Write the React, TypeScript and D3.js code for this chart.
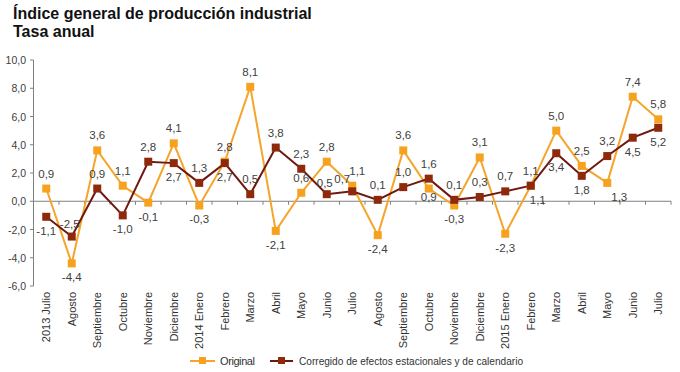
import React from "react";
import * as d3 from "d3";

const categories = [
  "2013 Julio", "Agosto", "Septiembre", "Octubre", "Noviembre", "Diciembre",
  "2014 Enero", "Febrero", "Marzo", "Abril", "Mayo", "Junio", "Julio",
  "Agosto", "Septiembre", "Octubre", "Noviembre", "Diciembre",
  "2015 Enero", "Febrero", "Marzo", "Abril", "Mayo", "Junio", "Julio",
];
const original = [0.9, -4.4, 3.6, 1.1, -0.1, 4.1, -0.3, 2.8, 8.1, -2.1, 0.6, 2.8, 1.1, -2.4, 3.6, 0.9, -0.3, 3.1, -2.3, 1.1, 5.0, 2.5, 1.3, 7.4, 5.8];
const corregido = [-1.1, -2.5, 0.9, -1.0, 2.8, 2.7, 1.3, 2.7, 0.5, 3.8, 2.3, 0.5, 0.7, 0.1, 1.0, 1.6, 0.1, 0.3, 0.7, 1.1, 3.4, 1.8, 3.2, 4.5, 5.2];
const yTicks = [-6, -4, -2, 0, 2, 4, 6, 8, 10];

// label placement: a = above, b = below
const origPlace = "abaababaabaaababbabaaabaa".split("");
const corrPlace = "baabababaaaaaaaaaaabbbabb".split("");
const origDx: Record<number, number> = { 12: 5, 22: 12 };
const corrDx: Record<number, number> = { 12: -10, 19: 7, 1: -2, 11: -2 };
const origDy: Record<number, number> = { 15: -6 };
const corrDy: Record<number, number> = { 11: 4, 12: 3, 1: 2 };

const W = 680, H = 372;
const ORANGE = "#F7A21E";
const ORANGE_LINE = "#F5A42C";
const DARK = "#8E2A0B";
const DARK_LINE = "#6E1810";
const fmt = (v: number) => v.toFixed(1).replace(".", ",");

export default function App() {
  const x = d3.scaleBand<number>().domain(categories.map((_, i) => i)).range([33.5, 671]).padding(0);
  const bw = x.bandwidth();
  const cx = (i: number) => (x(i) as number) + bw / 2;
  const y = d3.scaleLinear().domain([-6, 10]).range([286, 60]);
  const line = d3.line<number>().x((_, i) => cx(i)).y((d) => y(d));
  const font = "'Liberation Sans', Arial, sans-serif";

  const labels = (vals: number[], place: string[], dxs: Record<number, number>, dys: Record<number, number>) =>
    vals.map((v, i) => (
      <text key={i} x={cx(i) + (dxs[i] || 0)} y={(place[i] === "a" ? y(v) - 11 : y(v) + 18) + (dys[i] || 0)}
        textAnchor="middle" fontSize={11.5} fill="#404040" fontFamily={font}>{fmt(v)}</text>
    ));

  return (
    <svg width={W} height={H} style={{ position: "absolute", left: 0, top: 0, background: "#fff" }}>
      <rect x={0} y={0} width={W} height={H} fill="#fff" />
      <text x={13} y={19} fontSize={16} fontWeight="bold" fontFamily={font} fill="#111">Índice general de producción industrial</text>
      <text x={13} y={37} fontSize={16} fontWeight="bold" fontFamily={font} fill="#111">Tasa anual</text>

      {/* y axis */}
      <line x1={33.5} x2={33.5} y1={y(10)} y2={y(-6)} stroke="#808080" />
      {yTicks.map((t) => (
        <g key={t}>
          <line x1={30} x2={33.5} y1={y(t)} y2={y(t)} stroke="#808080" />
          <text x={26} y={y(t) + 4} textAnchor="end" fontSize={10.5} fill="#404040" fontFamily={font}>{fmt(t)}</text>
        </g>
      ))}
      {/* zero line */}
      <line x1={33.5} x2={671} y1={y(0)} y2={y(0)} stroke="#808080" />
      {categories.map((_, i) => (
        <line key={i} x1={(x(i) as number) + bw} x2={(x(i) as number) + bw} y1={y(0)} y2={y(0) + 3.5} stroke="#808080" />
      ))}

      {/* x labels */}
      {categories.map((c, i) => (
        <text key={i} transform={`translate(${cx(i) + 4},292) rotate(-90)`} textAnchor="end"
          fontSize={11} fill="#333" fontFamily={font}>{c}</text>
      ))}

      {/* series */}
      <path d={line(original) as string} fill="none" stroke={ORANGE_LINE} strokeWidth={2} />
      <path d={line(corregido) as string} fill="none" stroke={DARK_LINE} strokeWidth={2} />
      {original.map((v, i) => (
        <rect key={i} x={cx(i) - 4} y={y(v) - 4} width={8} height={8} fill={ORANGE} />
      ))}
      {corregido.map((v, i) => (
        <rect key={i} x={cx(i) - 4} y={y(v) - 4} width={8} height={8} fill={DARK} />
      ))}
      {labels(original, origPlace, origDx, origDy)}
      {labels(corregido, corrPlace, corrDx, corrDy)}

      {/* legend */}
      <line x1={190} x2={215} y1={361} y2={361} stroke={ORANGE_LINE} strokeWidth={2} />
      <rect x={199} y={357} width={7} height={7} fill={ORANGE} />
      <text x={220} y={365} fontSize={11} fill="#333" fontFamily={font} textLength={35}>Original</text>
      <line x1={270} x2={293} y1={361} y2={361} stroke={DARK_LINE} strokeWidth={2} />
      <rect x={278} y={357} width={7} height={7} fill={DARK} />
      <text x={299} y={365} fontSize={11} fill="#333" fontFamily={font} textLength={224} lengthAdjust="spacingAndGlyphs">Corregido de efectos estacionales y de calendario</text>
    </svg>
  );
}
